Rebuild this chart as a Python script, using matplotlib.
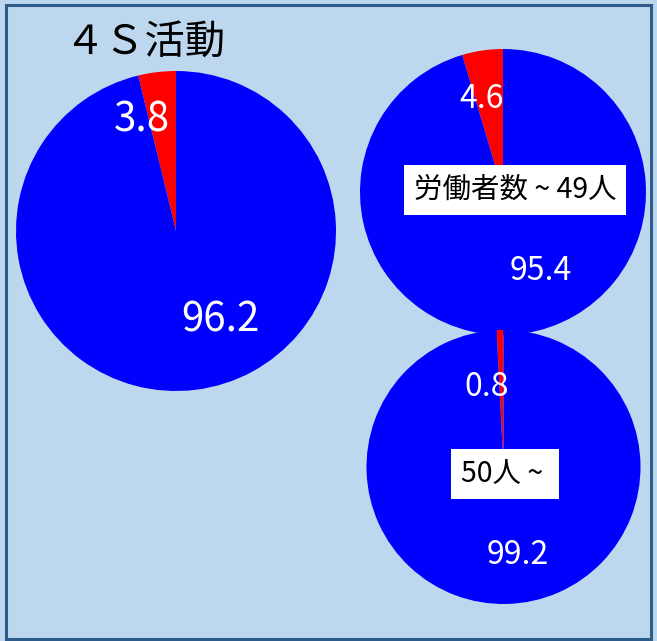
import matplotlib
matplotlib.use("Agg")
import matplotlib.pyplot as plt
from matplotlib.patches import Rectangle

plt.rcParams['font.family'] = ['Noto Sans CJK JP', 'DejaVu Sans']

title = "４Ｓ活動"
all_values = [3.8, 96.2]
small_values = [4.6, 95.4]
large_values = [0.8, 99.2]
small_label = "労働者数 ~ 49人"
large_label = "50人 ~ "
colors = ["#FF0000", "#0000FF"]

W, H = 657, 641
fig = plt.figure(figsize=(W / 100, H / 100), dpi=100, facecolor="#BDD7EE")
ax = fig.add_axes([0, 0, 1, 1])

def Y(y):
    return H - y

# border
fig.patches.append(Rectangle((6 / W, 2 / H), 645 / W, 634 / H, transform=fig.transFigure,
                             fill=False, edgecolor="#2E5C8A", linewidth=2.2))

# pies
pies = [
    (all_values, (176, 231), 160),
    (small_values, (503, 192), 143),
    (large_values, (503.5, 467), 137),
]
for vals, (cx, cy), r in pies:
    ax.pie(vals, colors=colors, startangle=90, counterclock=True,
           center=(cx, Y(cy)), radius=r, frame=True,
           wedgeprops=dict(linewidth=0))
ax.set_xlim(0, W)
ax.set_ylim(0, H)
ax.set_aspect("equal")
ax.axis("off")

# value labels
label_specs = [
    (all_values[0], (142, 120), 29),
    (all_values[1], (220, 320), 29),
    (small_values[0], (482, 99), 23),
    (small_values[1], (541, 271), 23),
    (large_values[0], (487, 387), 23),
    (large_values[1], (518, 555), 23),
]
for v, (x, y), fs in label_specs:
    ax.text(x, Y(y), f"{v:.1f}", color="white", fontsize=fs,
            ha="center", va="center")

# group labels
bbox = dict(boxstyle="square,pad=0.35", facecolor="white", edgecolor="none")
ax.text(515, Y(190), small_label, fontsize=20.5, ha="center", va="center",
        color="black", bbox=bbox)
ax.text(505, Y(474), large_label, fontsize=20.5, ha="center", va="center",
        color="black", bbox=bbox)

# title
ax.text(145, Y(42), title, fontsize=29, ha="center", va="center", color="black")

fig.savefig("out.png", dpi=100, facecolor=fig.get_facecolor())
